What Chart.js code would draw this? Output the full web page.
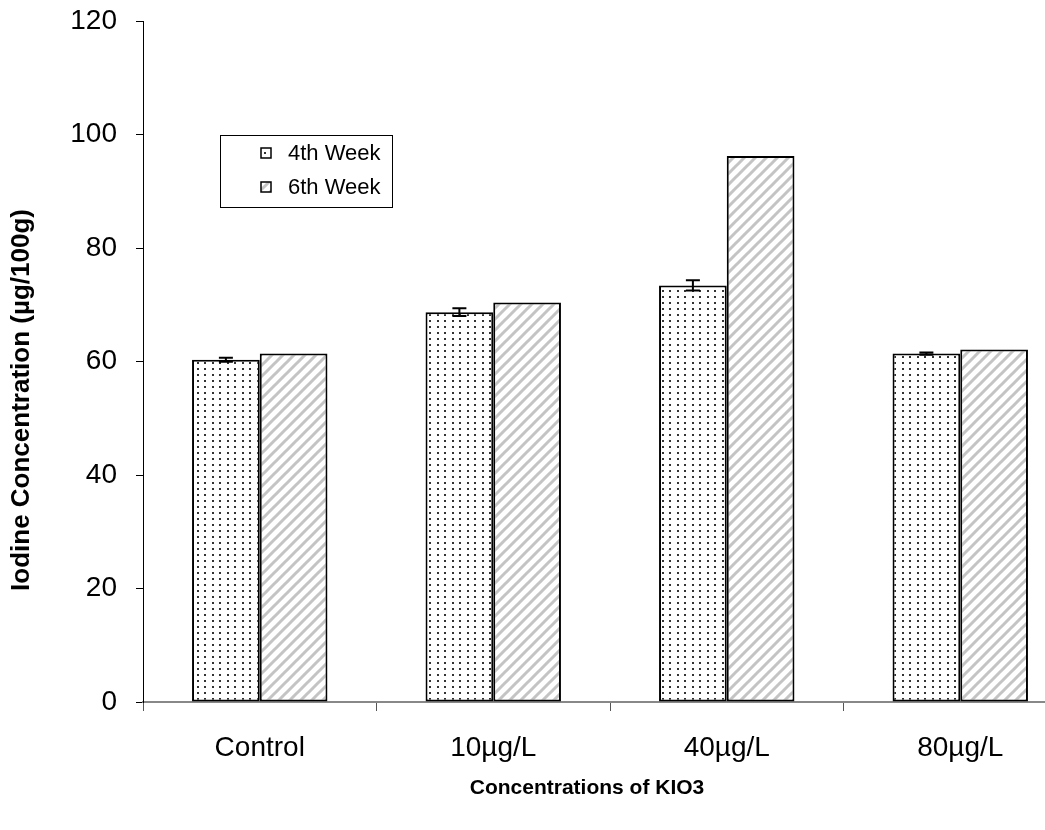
<!DOCTYPE html>
<html>
<head>
<meta charset="utf-8">
<script src="https://cdn.jsdelivr.net/npm/chart.js@4"></script>
<style>
  body { margin: 0; overflow: hidden; background: #fff; }
  canvas { display: block; }
</style>
</head>
<body>
<canvas id="iodine" width="1080" height="830"></canvas>
<script>
var categories = ['Control', '10µg/L', '40µg/L', '80µg/L'];
var week4 = [60.3, 68.7, 73.4, 61.4];
var week4Err = [0.35, 0.7, 0.9, 0.2];
var week6 = [61.4, 70.4, 96.2, 62.1];
var yTicks = [0, 20, 40, 60, 80, 100, 120];
var seriesNames = ['4th Week', '6th Week'];

var FONT = 'Arial, "Liberation Sans", sans-serif';

function dotPattern() {
    var c = document.createElement('canvas');
    c.width = 15; c.height = 12;
    var g = c.getContext('2d');
    g.fillStyle = '#fff';
    g.fillRect(0, 0, 15, 12);
    g.fillStyle = '#333';
    [[2, 2], [9, 2], [2, 8], [9, 8]].forEach(function (p) { g.fillRect(p[0], p[1], 2, 2); });
    return g.createPattern(c, 'repeat');
}

function hatchPattern() {
    var s = 11;
    var c = document.createElement('canvas');
    c.width = s; c.height = s;
    var g = c.getContext('2d');
    g.fillStyle = '#fff';
    g.fillRect(0, 0, s, s);
    g.strokeStyle = '#c4c4c4';
    g.lineWidth = 3;
    g.beginPath();
    g.moveTo(-2, s + 2); g.lineTo(s + 2, -2);
    g.moveTo(-2, 2); g.lineTo(2, -2);
    g.moveTo(s - 2, s + 2); g.lineTo(s + 2, s - 2);
    g.stroke();
    return g.createPattern(c, 'repeat');
}

var errorBars = {
    id: 'errorBars',
    afterDatasetsDraw: function (chart) {
        var ctx = chart.ctx;
        var y = chart.scales.y;
        var meta = chart.getDatasetMeta(0);
        ctx.save();
        ctx.strokeStyle = '#000';
        ctx.lineWidth = 2;
        meta.data.forEach(function (bar, i) {
            var hi = y.getPixelForValue(week4[i] + week4Err[i]);
            var lo = y.getPixelForValue(week4[i] - week4Err[i]);
            ctx.beginPath();
            ctx.moveTo(bar.x, hi); ctx.lineTo(bar.x, lo);
            ctx.moveTo(bar.x - 7, hi); ctx.lineTo(bar.x + 7, hi);
            ctx.moveTo(bar.x - 7, lo); ctx.lineTo(bar.x + 7, lo);
            ctx.stroke();
        });
        ctx.restore();
    }
};

var titlesAndLegend = {
    id: 'titlesAndLegend',
    afterDraw: function (chart) {
        var ctx = chart.ctx;
        var a = chart.chartArea;
        ctx.save();
        ctx.fillStyle = '#000';
        ctx.textAlign = 'center';
        ctx.textBaseline = 'middle';
        ctx.font = 'bold 21px ' + FONT;
        ctx.fillText('Concentrations of KIO3', a.left + 444, 788);
        ctx.translate(22, 400);
        ctx.rotate(-Math.PI / 2);
        ctx.font = 'bold 26px ' + FONT;
        ctx.fillText('Iodine Concentration (µg/100g)', 0, 0);
        ctx.restore();

        // legend box
        var lx = a.left + 77, ly = a.top + 114, lw = 172, lh = 72;
        ctx.save();
        ctx.fillStyle = '#fff';
        ctx.fillRect(lx, ly, lw, lh);
        ctx.strokeStyle = '#000';
        ctx.lineWidth = 1;
        ctx.strokeRect(lx + 0.5, ly + 0.5, lw, lh);
        chart.data.datasets.forEach(function (ds, i) {
            var cy = ly + 18 + i * 34;
            ctx.fillStyle = ds.backgroundColor;
            ctx.fillRect(lx + 41, cy - 5, 10, 10);
            ctx.strokeStyle = '#000';
            ctx.lineWidth = 1.5;
            ctx.strokeRect(lx + 41, cy - 5, 10, 10);
            ctx.fillStyle = '#000';
            ctx.font = '22px ' + FONT;
            ctx.textAlign = 'left';
            ctx.textBaseline = 'middle';
            ctx.fillText(ds.label, lx + 68, cy + 1);
        });
        ctx.restore();
    }
};

new Chart(document.getElementById('iodine'), {
    type: 'bar',
    data: {
        labels: categories,
        datasets: [
            {
                label: seriesNames[0],
                data: week4,
                backgroundColor: dotPattern(),
                borderColor: '#000',
                borderWidth: 2,
                borderSkipped: false,
                categoryPercentage: 0.58,
                barPercentage: 1.0
            },
            {
                label: seriesNames[1],
                data: week6,
                backgroundColor: hatchPattern(),
                borderColor: '#000',
                borderWidth: 2,
                borderSkipped: false,
                categoryPercentage: 0.58,
                barPercentage: 1.0
            }
        ]
    },
    options: {
        responsive: false,
        devicePixelRatio: 1,
        animation: false,
        layout: { padding: { top: 21, right: 3, left: 0, bottom: 0 } },
        plugins: {
            legend: { display: false },
            tooltip: { enabled: false }
        },
        scales: {
            x: {
                afterFit: function (s) { s.height = 128; },
                grid: {
                    drawOnChartArea: false,
                    offset: true,
                    tickLength: 9,
                    color: '#555',
                    lineWidth: 1
                },
                border: { color: '#888', width: 2 },
                ticks: {
                    color: '#000',
                    padding: 20,
                    font: { family: FONT, size: 28 }
                }
            },
            y: {
                min: 0,
                max: 120,
                afterFit: function (s) {
                    s.width = 143;
                    s.paddingTop = 0;
                    s.paddingBottom = 0;
                },
                afterBuildTicks: function (s) {
                    s.ticks = yTicks.map(function (v) { return { value: v }; });
                },
                grid: {
                    drawOnChartArea: false,
                    tickLength: 7,
                    color: '#000',
                    lineWidth: 1
                },
                border: { color: '#000', width: 1 },
                ticks: {
                    color: '#000',
                    padding: 19,
                    font: { family: FONT, size: 28 }
                }
            }
        }
    },
    plugins: [errorBars, titlesAndLegend]
});
</script>
</body>
</html>
